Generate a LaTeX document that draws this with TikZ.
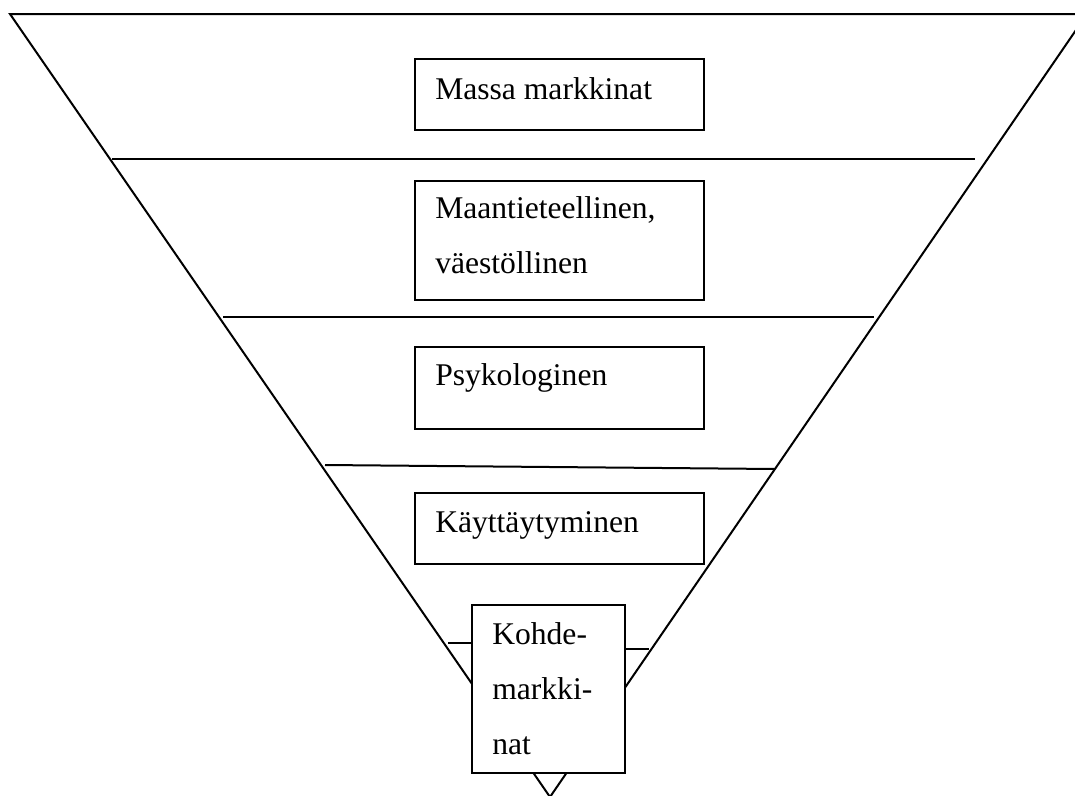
\documentclass[tikz,border=0pt]{standalone}
\usepackage{fontspec}
\setmainfont{Liberation Serif}
\begin{document}
\begin{tikzpicture}[x=0.75pt,y=-0.75pt,
  edge/.style={line width=1.5pt,black},
  box/.style={draw,line width=1.5pt,fill=white,inner sep=0pt,anchor=north west},
  lbl/.style={inner sep=0pt,anchor=base west,align=left,font=\fontsize{23.7}{41.25}\selectfont}]
\useasboundingbox (0,0) rectangle (1075,796);
\begin{scope}
\clip (0,0) rectangle (1075,796);
% funnel outline
\coordinate (tl) at (10,14);
\coordinate (tr) at (1087,14);
\coordinate (ap) at (550,797);
\draw[edge] (tr) -- (tl) -- (ap) -- cycle;
% dividing lines
\coordinate (l1a) at (112,159); \coordinate (l1b) at (975,159);
\coordinate (l2a) at (223,317); \coordinate (l2b) at (874,317);
\coordinate (l3a) at (325,465); \coordinate (l3b) at (775,469);
\draw[edge] (l1a) -- (l1b);
\draw[edge] (l2a) -- (l2b);
\draw[edge] (l3a) -- (l3b);
% boxes
\node[box,minimum width=216.75pt,minimum height=53.25pt] (b1) at (414,58) {};
\node[box,minimum width=216.75pt,minimum height=89.25pt] (b2) at (414,180) {};
\node[box,minimum width=216.75pt,minimum height=61.5pt] (b3) at (414,346) {};
\node[box,minimum width=216.75pt,minimum height=53.25pt] (b4) at (414,492) {};
\node[box,minimum width=114.75pt,minimum height=126pt] (b5) at (471,604) {};
\coordinate (l4a) at (448,643);
\coordinate (l4b) at (649,649);
\draw[edge] (l4a) -- (b5.west |- l4a);
\draw[edge] (b5.east |- l4b) -- (l4b);
% labels (multi-line nodes anchored at the baseline of their last line)
\node[lbl] (t1) at (435,99) {Massa markkinat};
\node[lbl] (t2) at (435,273) {Maantieteellinen,\\väestöllinen};
\node[lbl] (t3) at (435,385) {Psykologinen};
\node[lbl] (t4) at (435,532) {Käyttäytyminen};
\node[lbl] (t5) at (492,754) {Kohde-\\markki-\\nat};
\end{scope}
\end{tikzpicture}
\end{document}
